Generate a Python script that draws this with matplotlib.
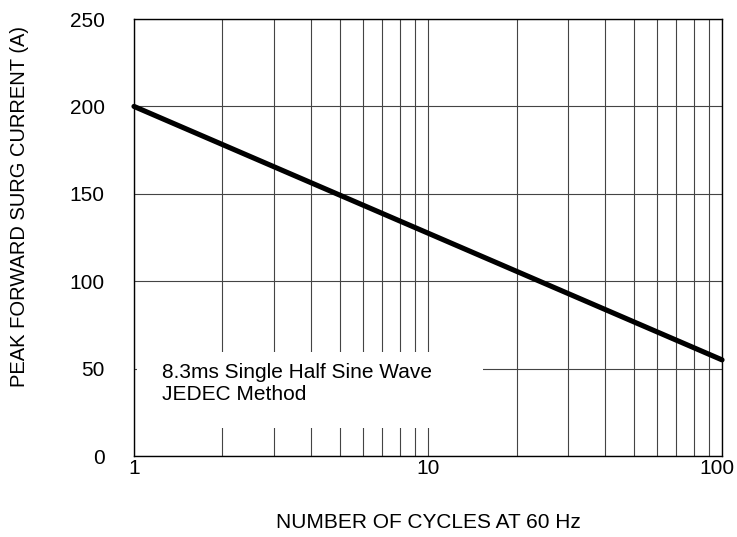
import numpy as np
import matplotlib.pyplot as plt
import matplotlib.transforms as mtransforms
from matplotlib.patches import Rectangle
from matplotlib.ticker import FixedLocator, NullFormatter

plt.rcParams['font.family'] = ['Liberation Sans', 'DejaVu Sans']

# surge current curve
cycles = [1, 100]
current = [200, 55]

y_ticks = [0, 50, 100, 150, 200, 250]
x_ticks = [1, 10, 100]
x_minor = [2, 3, 4, 5, 6, 7, 8, 9, 20, 30, 40, 50, 60, 70, 80, 90]

fig = plt.figure(figsize=(7.37, 5.37), dpi=100)
ax = fig.add_axes([0.1818, 0.1508, 0.7979, 0.8138])

ax.set_xscale('log')
ax.set_xlim(1, 100)
ax.set_ylim(0, 250)

ax.xaxis.set_major_locator(FixedLocator(x_ticks))
ax.xaxis.set_minor_locator(FixedLocator(x_minor))
ax.xaxis.set_minor_formatter(NullFormatter())
ax.set_xticklabels(['1', '10', '100'])
ax.set_yticks(y_ticks)

ax.grid(True, which='both', axis='x', color='#444444', lw=0.8)
ax.grid(True, which='major', axis='y', color='#444444', lw=0.8)
ax.tick_params(which='both', length=0, labelsize=15)
ax.tick_params(axis='y', pad=21)
ax.tick_params(axis='x', pad=2)

# nudge "100" a little left so it stays inside the figure
lab = ax.get_xticklabels()[-1]
lab.set_transform(lab.get_transform() + mtransforms.ScaledTranslation(-5 / 100, 0, fig.dpi_scale_trans))

for s in ax.spines.values():
    s.set_linewidth(1.0)

ax.plot(cycles, current, color='black', lw=3.7, solid_capstyle='round', zorder=4, clip_on=False)

# blank area behind the note
ax.add_patch(Rectangle((1.02, 16), 14.4, 43.5, facecolor='white', edgecolor='none', zorder=2))
ax.text(1.25, 41.5, '8.3ms Single Half Sine Wave\nJEDEC Method', fontsize=15,
        va='center', ha='left', linespacing=1.2, zorder=3)

ax.set_xlabel('NUMBER OF CYCLES AT 60 Hz', fontsize=15)
ax.xaxis.label.set_va('center')
ax.xaxis.set_label_coords(0.5, -0.151)
ax.set_ylabel('PEAK FORWARD SURG CURRENT (A)', fontsize=14.5)
ax.yaxis.label.set_va('center')
ax.yaxis.set_label_coords(-0.194, 0.57)

fig.savefig('out.png', dpi=100)
